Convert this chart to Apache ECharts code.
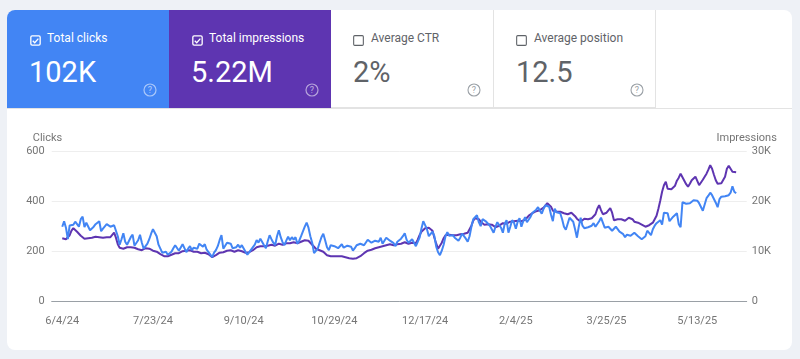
<!DOCTYPE html>
<html><head><meta charset="utf-8">
<script src="https://cdn.jsdelivr.net/npm/echarts@6/dist/echarts.min.js"></script>
<style>
html,body{margin:0;padding:0;width:800px;height:359px;background:#eef1f6;overflow:hidden;font-family:Roboto,"Noto Sans",sans-serif;}
#card{position:absolute;left:7px;top:10px;width:785px;height:340px;background:#fff;border-radius:8px;overflow:hidden;}
#tilesline{position:absolute;left:0;top:98px;width:785px;height:1px;background:#e3e3e3;}
.tile{position:absolute;top:0;height:98px;box-sizing:border-box;}
.t-blue{left:0;width:162px;background:#4285f4;color:#fff;}
.t-purple{left:162px;width:162px;background:#5e35b1;color:#fff;}
.t-ctr{left:324px;width:163px;background:#fff;color:#5f6368;border-right:1px solid #e3e3e3;border-bottom:1px solid #e3e3e3;}
.t-pos{left:487px;width:162px;background:#fff;color:#5f6368;border-right:1px solid #e3e3e3;border-bottom:1px solid #e3e3e3;}
.cb{position:absolute;left:23px;top:24.5px;width:11px;height:11px;}
.lbl{position:absolute;left:40px;top:22px;font-size:12px;line-height:12px;white-space:nowrap;}
.val{position:absolute;left:22px;top:47.5px;font-size:29px;line-height:29px;white-space:nowrap;}
.help{position:absolute;left:136px;top:73px;width:14px;height:14px;}
#chart{position:absolute;left:0;top:0;width:800px;height:359px;}
</style></head>
<body>
<div id="card">
  <div id="tilesline"></div>
  <div class="tile t-blue">
    <svg class="cb" viewBox="0 0 10 10"><rect x="0.75" y="0.75" width="8.5" height="8.5" rx="1.2" fill="none" stroke="#fff" stroke-width="1.2"/><path d="M2.5 5.2 L4.3 7 L7.6 3.3" fill="none" stroke="#fff" stroke-width="1.2"/></svg>
    <div class="lbl">Total clicks</div>
    <div class="val">102K</div>
    <svg class="help" viewBox="0 0 14 14"><circle cx="7" cy="7" r="6" fill="none" stroke="rgba(255,255,255,0.55)" stroke-width="1.2"/><text x="7" y="10.3" font-size="9" text-anchor="middle" fill="rgba(255,255,255,0.6)" font-family="Roboto">?</text></svg>
  </div>
  <div class="tile t-purple">
    <svg class="cb" viewBox="0 0 10 10"><rect x="0.75" y="0.75" width="8.5" height="8.5" rx="1.2" fill="none" stroke="#fff" stroke-width="1.2"/><path d="M2.5 5.2 L4.3 7 L7.6 3.3" fill="none" stroke="#fff" stroke-width="1.2"/></svg>
    <div class="lbl">Total impressions</div>
    <div class="val">5.22M</div>
    <svg class="help" viewBox="0 0 14 14"><circle cx="7" cy="7" r="6" fill="none" stroke="rgba(255,255,255,0.55)" stroke-width="1.2"/><text x="7" y="10.3" font-size="9" text-anchor="middle" fill="rgba(255,255,255,0.6)" font-family="Roboto">?</text></svg>
  </div>
  <div class="tile t-ctr">
    <svg class="cb" viewBox="0 0 10 10" style="left:22px"><rect x="0.6" y="0.6" width="8.8" height="8.8" rx="1" fill="none" stroke="#5f6368" stroke-width="1"/></svg>
    <div class="lbl">Average CTR</div>
    <div class="val">2%</div>
    <svg class="help" viewBox="0 0 14 14"><circle cx="7" cy="7" r="6" fill="none" stroke="#9aa0a6" stroke-width="1.1"/><text x="7" y="10.3" font-size="9" text-anchor="middle" fill="#9aa0a6" font-family="Roboto">?</text></svg>
  </div>
  <div class="tile t-pos">
    <svg class="cb" viewBox="0 0 10 10" style="left:22px"><rect x="0.6" y="0.6" width="8.8" height="8.8" rx="1" fill="none" stroke="#5f6368" stroke-width="1"/></svg>
    <div class="lbl">Average position</div>
    <div class="val">12.5</div>
    <svg class="help" viewBox="0 0 14 14"><circle cx="7" cy="7" r="6" fill="none" stroke="#9aa0a6" stroke-width="1.1"/><text x="7" y="10.3" font-size="9" text-anchor="middle" fill="#9aa0a6" font-family="Roboto">?</text></svg>
  </div>
</div>
<div id="chart"></div>
<script>
// Daily data, starting 6/4/24 (day index 0)
const xTickDays = [0, 49, 98, 147, 196, 245, 294, 343];
const xTickLabels = ['6/4/24','7/23/24','9/10/24','10/29/24','12/17/24','2/4/25','3/25/25','5/13/25'];

const clicks = [
300,322,296,250,305,312,308,320,326,300,
330,340,298,316,310,286,292,300,310,318,
322,282,292,300,310,316,300,296,306,300,
262,228,250,274,240,228,236,258,268,224,
222,246,268,236,212,222,232,250,272,290,
296,262,228,212,196,192,200,188,186,200,
214,226,224,204,210,230,214,198,212,222,
206,216,224,212,232,226,220,230,208,200,
188,178,196,206,222,246,266,212,224,236,
228,232,214,206,218,228,216,226,224,200,
188,194,208,212,228,246,236,252,258,226,
214,242,266,250,236,226,262,286,258,238,
226,244,260,246,258,248,258,232,244,262,
270,300,316,296,262,236,194,186,212,236,
258,272,246,218,206,226,234,222,226,214,
222,230,216,210,224,230,220,204,214,226,
222,232,236,226,220,248,254,236,228,244,
250,240,256,232,240,256,260,244,248,234,
222,240,248,252,262,274,248,236,242,250,
244,222,218,256,292,322,330,290,262,258,
280,262,220,198,186,204,228,262,278,264,
258,266,256,252,244,256,272,262,252,240,
262,300,330,336,346,318,302,330,336,320,
316,304,290,276,300,318,312,296,276,312,
326,276,300,326,316,292,320,334,300,322,
338,318,314,340,356,362,368,378,364,352,
372,386,392,380,348,322,372,358,350,354,
330,300,288,296,336,330,320,290,256,300,
336,304,294,300,298,290,304,314,300,308,
322,336,316,296,290,300,296,284,290,300,
292,280,284,270,258,268,274,264,268,276,
268,262,258,250,246,262,284,276,266,290,
304,314,322,326,308,356,360,354,322,328,
340,346,354,310,298,398,396,392,386,394,
400,406,412,404,394,388,364,356,414,424,
436,426,418,396,378,410,420,428,422,418,
426,436,462,440,434
];

const impressions = [
12700,12600,12500,12600,13300,14200,14700,14400,14000,13600,
13200,12900,12600,12500,12700,12600,12800,12900,13000,12800,
12900,13000,12800,13000,12900,13100,12900,13300,13800,12800,
11500,10800,10400,10600,10500,10900,11000,10900,11100,10800,
10700,10500,10300,10300,10500,10700,10800,10600,10400,10200,
10100,10000,9900,9500,9200,9100,9000,9100,9200,9400,
9500,9700,9800,9700,9900,10100,10000,10200,10100,10300,
10100,10000,9900,10000,9900,9700,9700,9800,9600,9500,
9200,8900,9000,9300,9500,9800,10100,9900,10000,10200,
10100,10300,10200,10000,10100,10300,10200,10100,10000,9800,
9700,9900,10100,10300,10600,10900,11000,11100,11200,11100,
11000,11200,11300,11400,11300,11200,11400,11600,11500,11400,
11600,11700,11800,11700,12000,11900,11800,11700,11900,12000,
12100,12300,12400,12200,11900,11400,11000,10600,10400,10300,
10200,10000,9700,9300,9000,9100,9200,9100,9000,9100,
9000,9100,9000,8900,8800,8700,8800,8600,8500,8700,
8800,9100,9400,9700,9900,10200,10400,10400,10500,10700,
10800,10900,11000,11100,11200,11300,11400,11500,11400,11300,
11400,11500,11400,11600,11700,11900,11800,11600,11700,11800,
11800,11700,12400,13300,14000,14400,14700,14600,14800,15000,
14200,12800,11600,10600,10900,11800,12700,13300,13600,13400,
13200,13300,13400,13300,13500,13500,13400,13600,13700,13800,
14000,15200,16200,16700,16800,16500,16000,15800,15400,15200,
15500,15600,15400,15100,14900,14800,15200,15600,15700,15500,
15600,15800,16000,16200,16100,16000,16200,16300,16100,16300,
16400,16800,17200,17400,17700,17900,18100,18200,18300,18500,
18800,19200,19700,19600,19000,18200,17900,18000,17900,18000,
17800,17700,17600,17500,17700,17800,17600,17100,16600,16200,
16000,16300,16600,16700,16500,16400,16700,17100,17500,18600,
19300,18300,17500,17600,17800,18200,18700,17800,16300,16100,
16500,16700,16500,16300,16200,16500,16800,17000,16500,16000,
15900,15800,15700,15400,15100,15000,15100,15300,15400,15800,
16200,17200,18600,20200,22000,23300,24000,22600,22300,22500,
22700,23200,24200,24800,25600,25400,24200,23500,23000,23600,
24300,24700,25000,24600,23300,23600,24400,25000,25600,26400,
27300,26600,25400,24300,23600,23500,23700,24000,25000,26600,
27200,26600,26000,26000,25900
];

const chart = echarts.init(document.getElementById('chart'), null, {renderer: 'canvas'});
const labelColor = '#757575';
chart.setOption({
  backgroundColor: 'transparent',
  animation: false,
  grid: {left: 51.7, right: 53.3, top: 151.7, bottom: 57.3},
  xAxis: {
    type: 'value', min: -5.7, max: 369.7,
    axisLine: {show: true, lineStyle: {color: '#9aa0a6', width: 1}},
    axisTick: {show: false},
    splitLine: {show: false},
    axisLabel: {
      customValues: xTickDays, color: labelColor, fontSize: 11, margin: 14,
      fontFamily: 'Roboto',
      formatter: function (v) { return xTickLabels[Math.round(v / 49)]; }
    }
  },
  yAxis: [{
    type: 'value', min: 0, max: 600, interval: 200,
    name: 'Clicks', nameLocation: 'end', nameGap: 13,
    nameTextStyle: {color: labelColor, fontSize: 11, align: 'right', verticalAlign: 'middle', fontFamily: 'Roboto'},
    axisLine: {show: false}, axisTick: {show: false},
    axisLabel: {color: labelColor, fontSize: 11, margin: 7, fontFamily: 'Roboto'},
    splitLine: {lineStyle: {color: '#eeeeee', width: 1}}
  }, {
    type: 'value', min: 0, max: 30000, interval: 10000, position: 'right',
    name: 'Impressions', nameLocation: 'end', nameGap: 13,
    nameTextStyle: {color: labelColor, fontSize: 11, align: 'center', verticalAlign: 'middle', fontFamily: 'Roboto'},
    axisLine: {show: false}, axisTick: {show: false},
    axisLabel: {color: labelColor, fontSize: 11, margin: 5, fontFamily: 'Roboto',
      formatter: function (v) { return v === 0 ? '0' : (v / 1000) + 'K'; }},
    splitLine: {show: false}
  }],
  series: [{
    name: 'Impressions', type: 'line', yAxisIndex: 1, showSymbol: false,
    data: impressions.map(function (v, i) { return [i, v]; }),
    lineStyle: {color: '#5e35b1', width: 2}, itemStyle: {color: '#5e35b1'}, z: 2
  }, {
    name: 'Clicks', type: 'line', yAxisIndex: 0, showSymbol: false,
    data: clicks.map(function (v, i) { return [i, v]; }),
    lineStyle: {color: '#4285f4', width: 2}, itemStyle: {color: '#4285f4'}, z: 3
  }]
});
</script>
</body></html>
